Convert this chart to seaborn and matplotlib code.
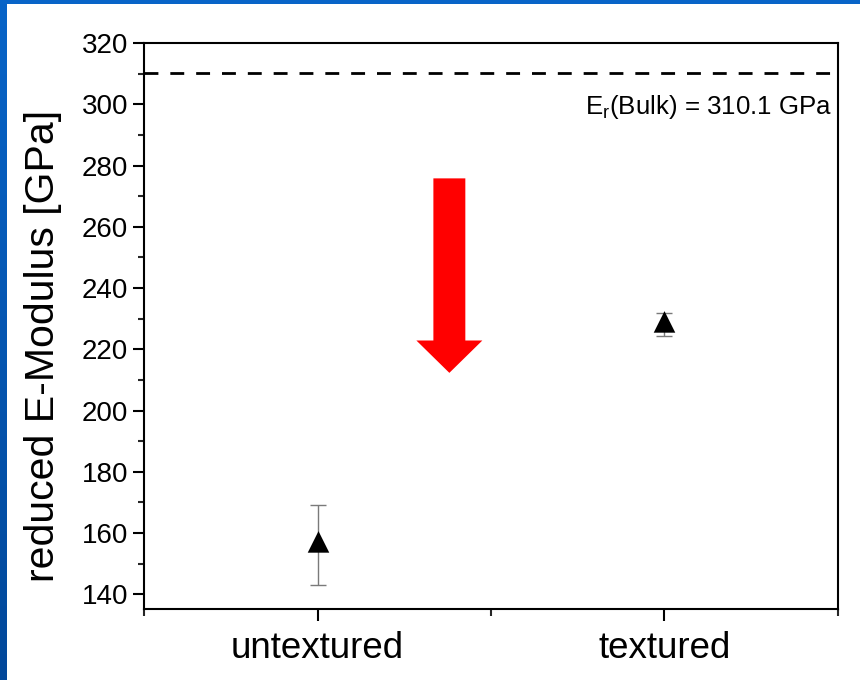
import numpy as np
import pandas as pd
import matplotlib
matplotlib.use("Agg")
import matplotlib.pyplot as plt
import seaborn as sns

# Reduced elastic modulus from nanoindentation
samples = ["untextured", "textured"]
modulus_mean = [156.2, 228.0]      # GPa
modulus_err = [13.1, 3.8]          # GPa
bulk_modulus = 310.1               # GPa, reference value
y_major_ticks = [140, 160, 180, 200, 220, 240, 260, 280, 300, 320]
y_minor_ticks = [150, 170, 190, 210, 230, 250, 270, 290, 310]

sns.set_theme(style="ticks")
plt.rcParams["font.family"] = ["Liberation Sans", "DejaVu Sans"]
plt.rcParams["mathtext.fontset"] = "custom"
plt.rcParams["mathtext.rm"] = "Liberation Sans"
plt.rcParams["axes.linewidth"] = 1.5

W, H = 860, 680
fig = plt.figure(figsize=(W / 100, H / 100), dpi=100, facecolor="white")

# slide frame: blue gradient strip on the left, blue band on top
frame_left = fig.add_axes([0, 0, 7 / W, 1])
grad = np.linspace(0, 1, 256).reshape(-1, 1)
frame_left.imshow(grad, aspect="auto", extent=[0, 1, 0, 1], origin="upper",
                  cmap=matplotlib.colors.LinearSegmentedColormap.from_list(
                      "frame", ["#0864c8", "#02489a"]))
frame_left.set_axis_off()
fig.patches.append(plt.Rectangle((0, 1 - 4 / H), 1, 4 / H, transform=fig.transFigure,
                                 facecolor="#0864c8", edgecolor="none"))

ax = fig.add_axes([144 / W, 1 - 609 / H, 694 / W, 566 / H])
ax.set_facecolor("white")

df = pd.DataFrame({
    "sample": samples,
    "pos": np.arange(1, len(samples) + 1),
    "modulus": modulus_mean,
    "err": modulus_err,
})

# up-triangle centred on its centroid
tri = [(0, 2 / 3), (-0.5, -1 / 3), (0.5, -1 / 3), (0, 2 / 3)]

ax.errorbar(df["pos"], df["modulus"], yerr=df["err"], fmt="none",
            ecolor="#7a7a7a", elinewidth=1.0, capsize=5.5, capthick=1.0, zorder=2)
sns.scatterplot(data=df, x="pos", y="modulus", marker=tri, s=20.7 ** 2,
                color="black", edgecolor="black", linewidth=0, legend=False,
                ax=ax, zorder=3)

# bulk reference
ax.axhline(bulk_modulus, color="black", lw=2.0, ls=(0, (5.0, 4.3)), zorder=1)
ax.annotate(r"E$_\mathregular{r}$(Bulk) = %.1f GPa" % bulk_modulus,
            xy=(0.991, bulk_modulus), xycoords=ax.get_yaxis_transform(),
            xytext=(0, -29.5), textcoords="offset points",
            ha="right", va="baseline", fontsize=18.6, color="black")

# red arrow indicating the drop in modulus
ax.annotate("", xy=(1.38, 212.3), xytext=(1.38, 275.8), xycoords="data",
            arrowprops=dict(arrowstyle="simple,head_length=23.3,head_width=47.5,tail_width=23",
                            mutation_scale=1, fc="#ff0000", ec="none",
                            shrinkA=0, shrinkB=0))

ax.set_xlim(0.5, 2.5)
ax.set_ylim(135.2, 320)
ax.set_xticks(df["pos"], samples)
ax.set_xticks([0.5, 1.5, 2.5], minor=True)
ax.set_yticks(y_major_ticks)
ax.set_yticks(y_minor_ticks, minor=True)

ax.tick_params(axis="y", which="major", direction="out", length=8, width=1.5,
               labelsize=20, pad=3.5, colors="black")
ax.tick_params(axis="y", which="minor", direction="out", length=4.5, width=1.5)
ax.tick_params(axis="x", which="major", direction="out", length=8.6, width=1.5,
               labelsize=26.5, pad=7.5, colors="black")
ax.tick_params(axis="x", which="minor", direction="out", length=5, width=1.5)

ax.set_xlabel("")
ax.set_ylabel("reduced E-Modulus [GPa]", fontsize=29.5, color="black")
ax.yaxis.set_label_coords(-0.118, 0.465)

for sp in ax.spines.values():
    sp.set_visible(True)
    sp.set_color("black")
    sp.set_linewidth(1.5)

fig.savefig("out.png", dpi=100, facecolor="white")
